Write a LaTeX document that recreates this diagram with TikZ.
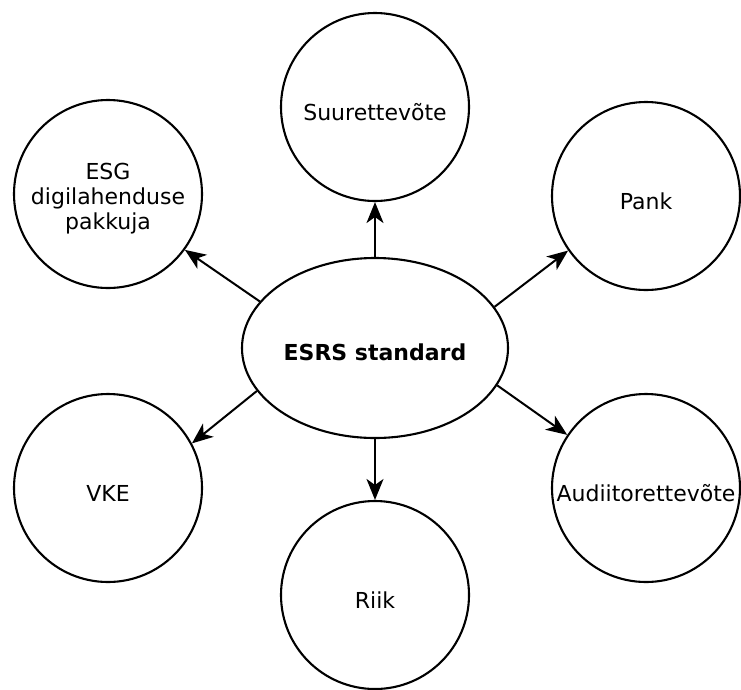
\documentclass[tikz,border=0pt]{standalone}
\usepackage{fontspec}
\setmainfont{DejaVu Sans}
\usetikzlibrary{shapes.geometric,arrows.meta}
\tikzset{
  txt/.style={font=\fontsize{22}{25}\selectfont,align=center,inner sep=0pt,yshift=-5pt},
  ent/.style={circle,draw=black,line width=2.1pt,minimum size=188pt,inner sep=0pt,
    label={[txt]center:#1}},
  hub/.style={ellipse,draw=black,line width=2.1pt,minimum width=266pt,minimum height=180pt,inner sep=0pt,
    label={[txt,font=\fontsize{22}{25}\selectfont\bfseries,yshift=1pt]center:#1}},
  conn/.style={line width=2pt,-{Stealth[length=21pt,width=17pt,inset=6pt]}}
}
\begin{document}
\begin{tikzpicture}[x=1pt,y=-1pt]
\useasboundingbox (0,0) rectangle (741,689);
\node[hub={ESRS standard}] (c) at (375,348) {};
\node[ent={Suurettevõte}] (s) at (375,107) {};
\node[ent={ESG\\digilahenduse\\pakkuja}] (esg) at (108,194) {};
\node[ent={Pank}] (pank) at (646,196) {};
\node[ent={VKE}] (vke) at (108,488) {};
\node[ent={Audiitorettevõte}] (aud) at (646,488) {};
\node[ent={Riik}] (riik) at (375,595) {};
\draw[conn] (c.north) -- (s.south);
\draw[conn] (c.south) -- (riik.north);
\draw[conn] (c.158.6) -- (esg.-36.4);
\draw[conn] (c.19.4) -- (pank.215.3);
\draw[conn] (c.200.9) -- (vke.28.4);
\draw[conn] (c.-17.5) -- (aud.146.5);
\end{tikzpicture}
\end{document}
